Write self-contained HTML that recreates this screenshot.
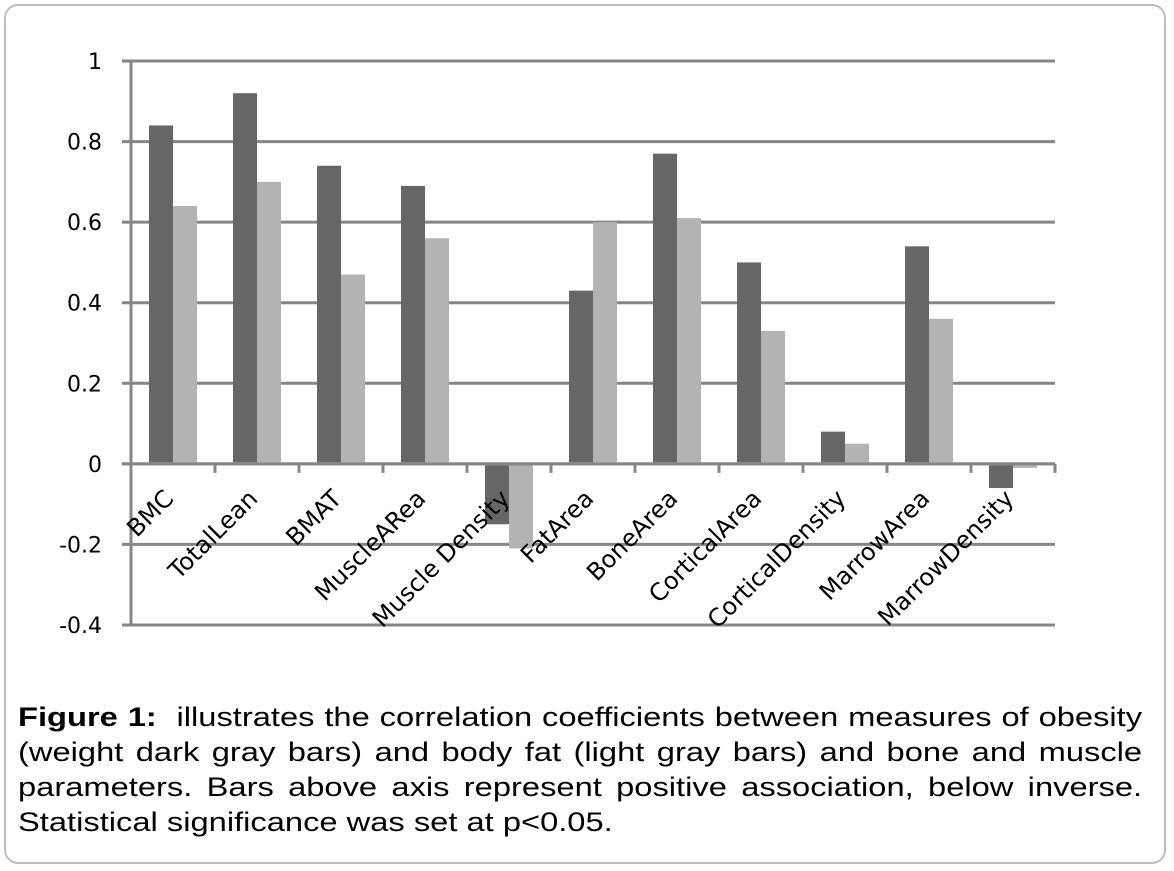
<!DOCTYPE html>
<html><head><meta charset="utf-8"><style>
html,body{margin:0;padding:0;background:#fff}
body{width:1174px;height:871px;position:relative;overflow:hidden}
#frame{position:absolute;left:4px;top:4px;width:1162px;height:860px;border:2px solid #bdbdbd;border-radius:14px;box-sizing:border-box}
#caption{position:absolute;left:18px;top:700px;width:929px;font-family:"Liberation Sans",Arial,sans-serif;font-size:27px;line-height:35px;color:#000;transform:scaleX(1.21);transform-origin:0 0;white-space:nowrap}
#caption .j{text-align:justify;text-align-last:justify}
</style></head><body>
<div id="frame"></div>
<svg id="chart" width="1174" height="690" style="position:absolute;left:0;top:0"></svg>
<div id="caption">
<div class="j" style="white-space:normal"><b>Figure 1:</b>&nbsp; illustrates the correlation coefficients between measures of obesity</div>
<div class="j" style="white-space:normal">(weight dark gray bars) and body fat (light gray bars) and bone and muscle</div>
<div class="j" style="white-space:normal">parameters. Bars above axis represent positive association, below inverse.</div>
<div>Statistical significance was set at p&lt;0.05.</div>
</div>
<script>
const categories=["BMC","TotalLean","BMAT","MuscleARea","Muscle Density","FatArea","BoneArea","CorticalArea","CorticalDensity","MarrowArea","MarrowDensity"];
const weightValues=[0.84,0.92,0.74,0.69,-0.15,0.43,0.77,0.50,0.08,0.54,-0.06];
const fatValues=[0.64,0.70,0.47,0.56,-0.21,0.60,0.61,0.33,0.05,0.36,-0.01];
const yTicks=[1,0.8,0.6,0.4,0.2,0,-0.2,-0.4];
const tickLabels=["1","0.8","0.6","0.4","0.2","0","-0.2","-0.4"];

const svg=document.getElementById('chart');
const NS='http://www.w3.org/2000/svg';
const L=131,R=1055,yMin=-0.4,yMax=1,plotTop=61,plotBot=625;
const y=v=>plotBot-(v-yMin)/(yMax-yMin)*(plotBot-plotTop);
const bw=(R-L)/categories.length;
const x=i=>L+bw*i;
function mk(t,a){const e=document.createElementNS(NS,t);for(const k in a)e.setAttribute(k,a[k]);svg.appendChild(e);return e;}
yTicks.forEach((v,i)=>{
  const g=mk('line',{x1:122,x2:R,y1:y(v),y2:y(v),stroke:'#868686','stroke-width':3});
  
  
  const t=mk('text',{x:102,y:y(v)+8,'text-anchor':'end','font-family':'DejaVu Sans,sans-serif','font-size':22,fill:'#000'});
  t.textContent=tickLabels[i];
  
  
});
const ax=mk('line',{x1:L,x2:L,y1:plotTop,y2:plotBot+1,stroke:'#868686','stroke-width':3});


for(let i=0;i<=categories.length;i++){
  const tk=mk('line',{x1:x(i),x2:x(i),y1:y(0),y2:y(0)+9,stroke:'#868686','stroke-width':3});
  
  
}
categories.forEach((c,i)=>{
  const cx=x(i)+bw/2;
  [[weightValues[i],'#666666',cx-24,'bar-weight'],[fatValues[i],'#b3b3b3',cx,'bar-body-fat']].forEach(([v,col,bx,nm])=>{
    const y0=y(0),y1=y(v);
    const r=mk('rect',{x:bx,y:Math.min(y0,y1)+(v>=0?0:1.5),width:24,height:Math.max(Math.abs(y1-y0)-1.5,1),fill:col});
    
    
  });
  const ex=cx+2,ey=500;
  const t=mk('text',{x:ex,y:ey,'text-anchor':'end','font-family':'DejaVu Sans,sans-serif','font-size':24,fill:'#000',transform:`rotate(-45 ${ex} ${ey})`});
  t.textContent=c;
  
  
});
const z=mk('line',{x1:122,x2:R,y1:y(0),y2:y(0),stroke:'#868686','stroke-width':3});


</script>
</body></html>
